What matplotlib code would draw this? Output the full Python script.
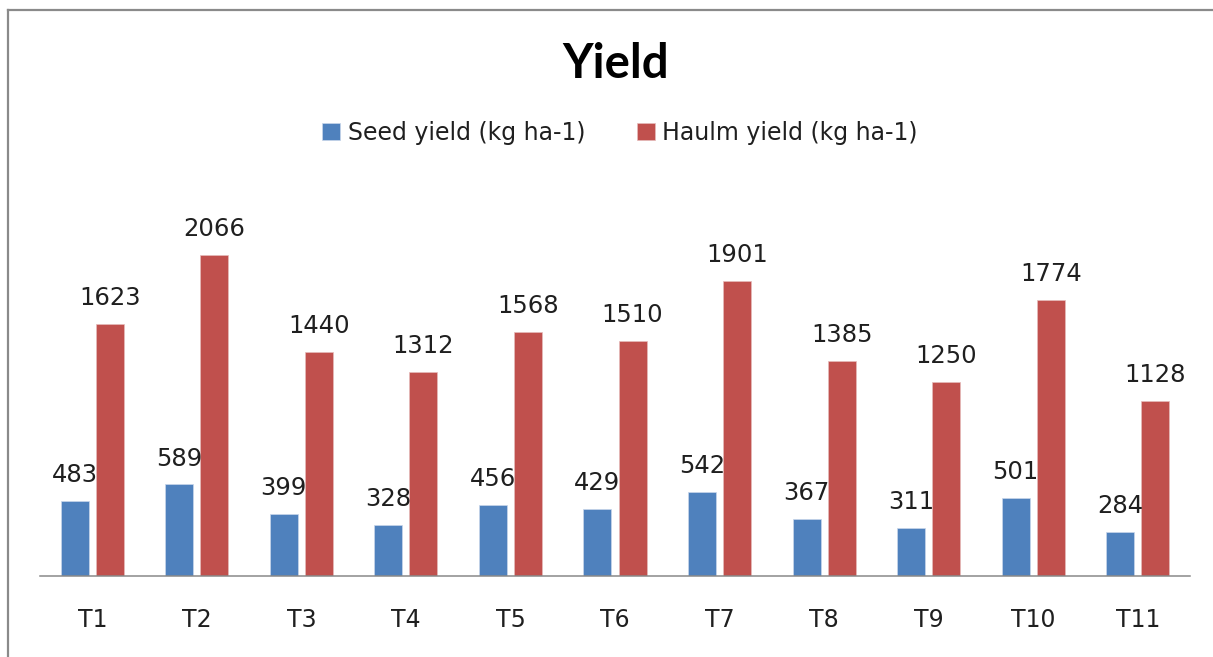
import numpy as np
import matplotlib.pyplot as plt
from matplotlib.lines import Line2D

categories = ["T1", "T2", "T3", "T4", "T5", "T6", "T7", "T8", "T9", "T10", "T11"]
seed_yield = [483, 589, 399, 328, 456, 429, 542, 367, 311, 501, 284]
haulm_yield = [1623, 2066, 1440, 1312, 1568, 1510, 1901, 1385, 1250, 1774, 1128]
series_names = ["Seed yield (kg ha-1)", "Haulm yield (kg ha-1)"]

blue = "#4F81BD"
red = "#C0504D"
text_color = "#1f1f1f"

W, H = 1213, 657
fig = plt.figure(figsize=(W / 100, H / 100), dpi=100)

# outer frame (left and top edges visible only)
frame_color = "#8a8a8a"
fig.add_artist(Line2D([7.5 / W, 7.5 / W], [0, 1 - 10 / H], color=frame_color, lw=1.6, transform=fig.transFigure))
fig.add_artist(Line2D([7.5 / W, 1], [1 - 10 / H, 1 - 10 / H], color=frame_color, lw=1.6, transform=fig.transFigure))

ax_left, ax_right = 40, 1190
ax_bottom, ax_top = 576, 180
ax = fig.add_axes([ax_left / W, 1 - ax_bottom / H, (ax_right - ax_left) / W, (ax_bottom - ax_top) / H])

x = np.arange(len(categories))
width = 0.268
offset = 0.1675

bars1 = ax.bar(x - offset, seed_yield, width, color=blue, edgecolor="#c9d7ea", linewidth=0.5, label=series_names[0])
bars2 = ax.bar(x + offset, haulm_yield, width, color=red, edgecolor="#e6bcbb", linewidth=0.5, label=series_names[1])

for bars in (bars1, bars2):
    for b in bars:
        ax.annotate(f"{int(b.get_height())}",
                    (b.get_x() + b.get_width() / 2, b.get_height()),
                    xytext=(0, 10), textcoords="offset points",
                    ha="center", va="bottom", fontsize=17.5, color=text_color)

ax.set_xlim(-0.5, len(categories) - 0.5)
ax.set_ylim(0, (ax_bottom - ax_top) / 0.1554)

ax.set_xticks(x)
ax.set_xticklabels(categories, fontsize=17, color=text_color)
ax.tick_params(axis="x", length=0, pad=23)
ax.set_yticks([])

for s in ["top", "right", "left"]:
    ax.spines[s].set_visible(False)
ax.spines["bottom"].set_color("#898989")
ax.spines["bottom"].set_linewidth(1.1)

fig.text(616 / W, 1 - 64 / H, "Yield", ha="center", va="center",
         fontsize=34, fontweight="bold", family="Lato", color="black")

fig.legend(handles=[bars1, bars2], labels=series_names, loc="center",
           bbox_to_anchor=(620 / W, 1 - 133 / H), ncol=2, frameon=False,
           fontsize=17, handlelength=0.76, handleheight=0.76,
           handletextpad=0.3, columnspacing=2.2, labelcolor=text_color)

fig.savefig("out.png", dpi=100)
